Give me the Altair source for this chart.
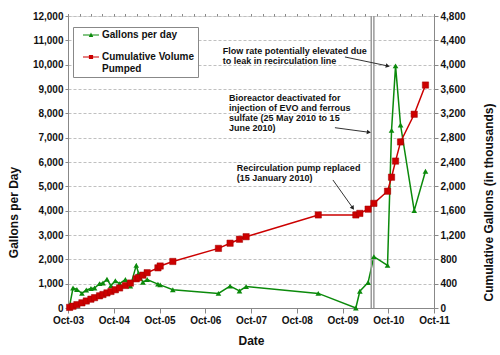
import altair as alt
import pandas as pd

# ---------------- data ----------------
dates = ["2003-10-14", "2003-11-10", "2003-12-11", "2004-01-20", "2004-02-24",
         "2004-04-01", "2004-04-30", "2004-06-09", "2004-07-06", "2004-08-07",
         "2004-09-08", "2004-10-13", "2004-11-16", "2005-01-01", "2005-02-10",
         "2005-03-29", "2005-04-16", "2005-05-21", "2005-06-24", "2005-09-18",
         "2005-10-06", "2006-01-15", "2007-01-14", "2007-04-17", "2007-07-01",
         "2007-08-23", "2009-03-21", "2010-01-15", "2010-02-16", "2010-04-23",
         "2010-06-08", "2010-09-25", "2010-10-27", "2010-11-28", "2011-01-07",
         "2011-04-26", "2011-07-25"]
gallons_per_day = [100, 820, 760, 600, 740, 800, 820, 1000, 1030, 1180,
                   920, 1120, 1000, 1170, 900, 1750, 1430, 1060, 1170, 980,
                   950, 750, 600, 900, 700, 880, 600, 0, 690, 1050,
                   2110, 1750, 7300, 9950, 7520, 4000, 5620]
cumulative_k = [10, 30, 55, 85, 115, 145, 170, 200, 222, 248,
                272, 300, 330, 370, 410, 480, 500, 540, 580, 660,
                690, 765, 980, 1065, 1130, 1172, 1530, 1530, 1555, 1625,
                1720, 1920, 2150, 2415, 2730, 3185, 3665]

series_names = ["Gallons per day", "Cumulative Volume Pumped"]

# bioreactor deactivated period (double vertical line)
event_dates = ["2010-05-18", "2010-06-08"]

# annotation text lines (left end date, left-axis value)
ann_lines = ["Flow rate potentially elevated due", "to leak in recirculation line",
             "Bioreactor deactivated for", "injection of EVO and ferrous",
             "sulfate (25 May 2010 to 15", "June 2010)",
             "Recirculation pump replaced", "(15 January 2010)"]
ann_dates = ["2007-02-18", "2007-02-18",
             "2007-04-09", "2007-04-09", "2007-04-09", "2007-04-09",
             "2007-06-10", "2007-06-10"]
ann_values = [10575, 10164, 8644, 8233, 7822, 7386, 5754, 5343]

# arrows: start/end in (date, left-axis value) and head angle
arrow_start_dates = ["2009-10-20", "2009-08-01", "2009-07-16"]
arrow_start_values = [10316, 7410, 5261]
arrow_end_dates = ["2010-09-27", "2010-04-29", "2009-12-22"]
arrow_end_values = [9947, 7222, 4110]
arrow_angles = [102, 98, 145]

GREEN = "#0b8a0b"
RED = "#cc0000"
FONT = "Liberation Sans"

df = pd.DataFrame({"date": dates, "gpd": gallons_per_day, "cum": cumulative_k})
ev = pd.DataFrame({"date": event_dates})
ann = pd.DataFrame({"date": ann_dates, "v": ann_values, "t": ann_lines})
arr = pd.DataFrame({"d1": arrow_start_dates, "v1": arrow_start_values,
                    "d2": arrow_end_dates, "v2": arrow_end_values,
                    "ang": arrow_angles})
leg = pd.DataFrame({"s": series_names})

x_domain = [alt.DateTime(year=2003, month=10, date=1),
            alt.DateTime(year=2011, month=10, date=1)]
x_ticks = [alt.DateTime(year=y, month=10, date=1) for y in range(2003, 2012)]
x_minor = [alt.DateTime(year=y, month=m, date=1)
           for y in range(2003, 2012) for m in (1, 4, 7, 10)
           if (2003, 10) <= (y, m) <= (2011, 10)]
x_scale = alt.Scale(domain=x_domain)

left_scale = alt.Scale(domain=[0, 12000], nice=False)
right_scale = alt.Scale(domain=[0, 4800], nice=False)

x_axis = alt.Axis(title="Date", values=x_ticks, format="%b-%y",
                  grid=False, labelFontSize=10, labelFontWeight="bold",
                  titleFontSize=12, titleFontWeight="bold",
                  titlePadding=10, tickSize=5, labelPadding=2,
                  labelOverlap=False, labelFlush=False, labelBound=False,
                  domainColor="#888", tickColor="#888",
                  labelColor="#111", titleColor="#111")
x_minor_axis = alt.Axis(title=None, values=x_minor, labels=False, grid=False,
                        domain=False, tickSize=2.5, tickColor="#888")

left_axis = alt.Axis(title="Gallons per Day", values=list(range(0, 12001, 1000)),
                     format=",d", grid=True, gridDash=[3, 2], gridColor="#c0c0c0",
                     labelFontSize=10, labelFontWeight="bold", labelOverlap=False,
                     titleFontSize=12, titleFontWeight="bold",
                     titleY=196, titleX=-55, titleBaseline="middle",
                     titleAngle=270, tickSize=3,
                     domainColor="#888", tickColor="#888",
                     labelColor="#111", titleColor="#111")
right_axis = alt.Axis(title="Cumulative Gallons (in thousands)",
                      values=list(range(0, 4801, 400)), format=",d",
                      orient="right", grid=False, labelOverlap=False,
                      labelFontSize=10, labelFontWeight="bold",
                      titleFontSize=12, titleFontWeight="bold",
                      titleAngle=270, titleY=186, titleX=54,
                      titleBaseline="middle", tickSize=4,
                      domainColor="#888", tickColor="#888",
                      labelColor="#111", titleColor="#111")

base = alt.Chart(df)

g_line = base.mark_line(color=GREEN, strokeWidth=1.5).encode(
    x=alt.X("date:T", scale=x_scale, axis=x_axis),
    y=alt.Y("gpd:Q", scale=left_scale, axis=left_axis))
g_pts = base.mark_point(shape="triangle-up", filled=True, color=GREEN,
                        size=32, opacity=1).encode(
    x=alt.X("date:T", scale=x_scale, axis=x_axis),
    y=alt.Y("gpd:Q", scale=left_scale, axis=left_axis))

rules = alt.Chart(ev).mark_rule(color="#9a9a9a", strokeWidth=1.5).encode(
    x=alt.X("date:T", scale=x_scale, axis=x_axis))

texts = alt.Chart(ann).mark_text(align="left", baseline="middle", font=FONT,
                                 fontSize=9, fontWeight="bold",
                                 color="#111").encode(
    x=alt.X("date:T", scale=x_scale, axis=x_axis),
    y=alt.Y("v:Q", scale=left_scale, axis=left_axis), text="t:N")

arrow_lines = alt.Chart(arr).mark_rule(color="#333", strokeWidth=1).encode(
    x=alt.X("d1:T", scale=x_scale, axis=x_axis), x2="d2:T",
    y=alt.Y("v1:Q", scale=left_scale, axis=left_axis), y2="v2:Q")
arrow_heads = alt.Chart(arr).mark_point(shape="triangle-up", filled=True,
                                        color="#222", size=22,
                                        opacity=1).encode(
    x=alt.X("d2:T", scale=x_scale, axis=x_axis),
    y=alt.Y("v2:Q", scale=left_scale, axis=left_axis),
    angle=alt.Angle("ang:Q", scale=None))

tri_path = "M-1.6,-0.1H1.6V0.1H-1.6Z M-0.45,0.42L0,-0.5L0.45,0.42Z"
sq_path = "M-1.6,-0.1H1.6V0.1H-1.6Z M-0.42,-0.42H0.42V0.42H-0.42Z"
label_expr = ("datum.label == 'Cumulative Volume Pumped' ? "
              "['Cumulative Volume', 'Pumped'] : datum.label")
legend_def = alt.Legend(title=None, orient="none", legendX=5, legendY=11,
                        labelExpr=label_expr)

legend_layer = alt.Chart(leg).transform_filter("false").mark_point(
    filled=True, opacity=1).encode(
    color=alt.Color("s:N", scale=alt.Scale(domain=series_names, range=[GREEN, RED]),
                    legend=legend_def),
    shape=alt.Shape("s:N", scale=alt.Scale(domain=series_names, range=[tri_path, sq_path]),
                    legend=legend_def),
)

left = alt.layer(g_line, rules, texts, arrow_lines, arrow_heads, g_pts)

r_line = base.mark_line(color=RED, strokeWidth=1.5).encode(
    x=alt.X("date:T", scale=x_scale, axis=x_minor_axis),
    y=alt.Y("cum:Q", scale=right_scale, axis=right_axis))
r_pts = base.mark_point(shape="square", filled=True, color=RED, size=40,
                        opacity=1, stroke="#a00000", strokeWidth=0.5).encode(
    x=alt.X("date:T", scale=x_scale, axis=x_minor_axis),
    y=alt.Y("cum:Q", scale=right_scale, axis=right_axis))
right = alt.layer(r_line, r_pts)

chart = alt.layer(left, right, legend_layer).resolve_scale(
    y="independent", x="shared"
).resolve_axis(
    x="independent", y="independent"
).properties(
    width=366, height=292,
    padding={"left": 68, "top": 16, "right": 66, "bottom": 47},
    autosize=alt.AutoSizeParams(type="none"),
    background="white",
).configure_view(
    stroke="#999", strokeWidth=1
).configure(
    font=FONT
).configure_legend(
    strokeColor="#888", fillColor="white", padding=3, cornerRadius=0,
    labelFont=FONT, labelFontSize=10, labelFontWeight="bold", labelColor="#111",
    symbolSize=100, symbolStrokeWidth=0, rowPadding=12, labelOffset=6,
    symbolOffset=10, labelLimit=200
)

chart.save("out.html", embed_options={"renderer": "svg", "actions": False})
